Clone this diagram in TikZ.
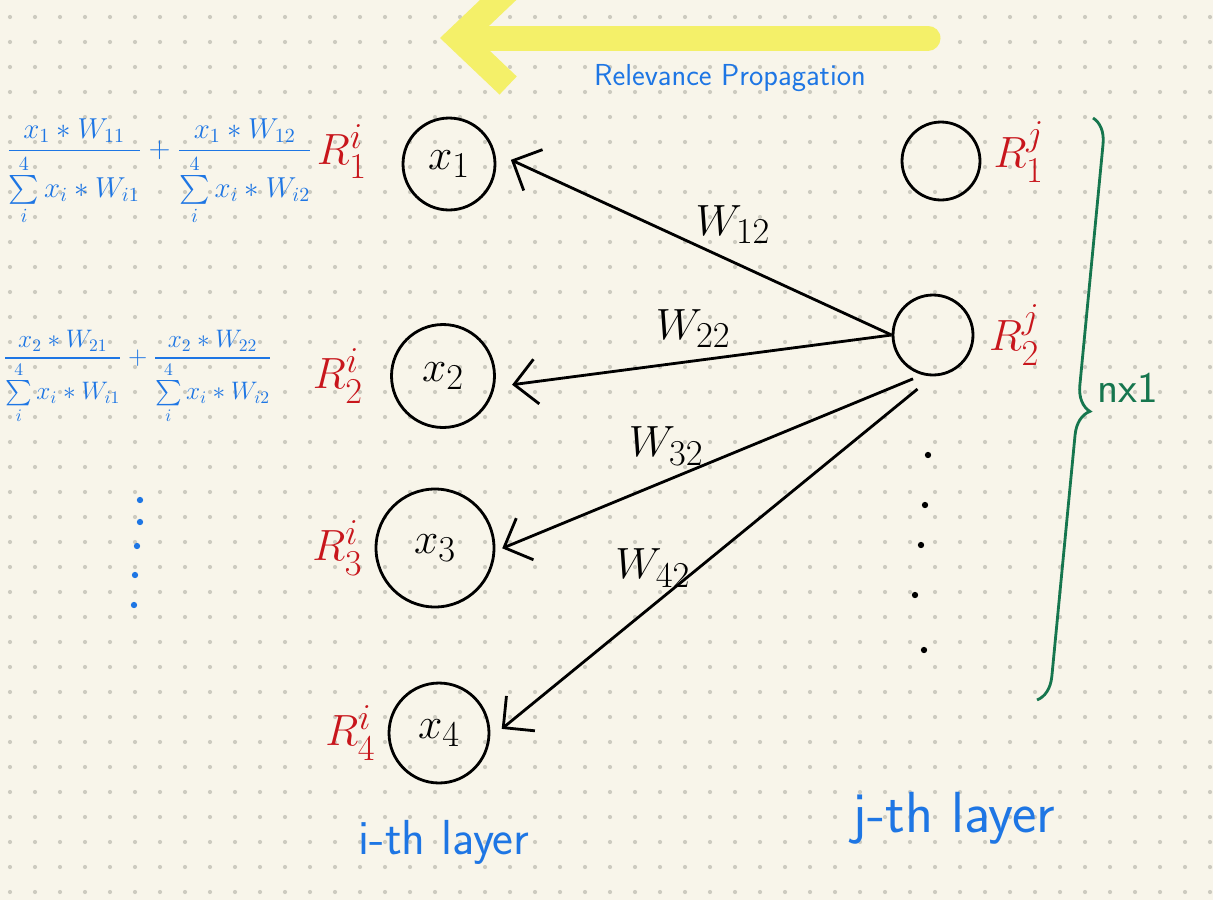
\documentclass[tikz,border=0pt]{standalone}
\usepackage{amsmath}
\usepackage{graphicx}
\usetikzlibrary{arrows.meta, positioning, decorations.pathreplacing}
\definecolor{paper}{RGB}{248, 245, 234}
\definecolor{griddot}{RGB}{205, 203, 192}
\definecolor{penblue}{RGB}{30, 118, 228}
\definecolor{penred}{RGB}{200, 22, 28}
\definecolor{pengreen}{RGB}{22, 118, 78}
\definecolor{marker}{RGB}{244, 240, 105}

\begin{document}
\begin{tikzpicture}[
    x=0.02cm, y=-0.02cm,
    % Styles for the sketch
    neuron/.style={circle, draw=black, line width=1.6pt, minimum size=1.9cm, inner sep=0pt, font=\Huge},
    relevance/.style={text=penred, inner sep=1pt, font=\Huge},
    weight/.style={text=black, inner sep=1pt, font=\Huge},
    formula/.style={text=penblue, inner sep=0pt, anchor=west, font=\Large},
    caption/.style={text=penblue, font=\sffamily\LARGE},
    relarrow/.style={draw, line width=1.6pt, -{Straight Barb[length=4.5mm, width=9mm]}},
    flowarrow/.style={draw=marker, line width=0.5cm, line cap=round, line join=round, -{Straight Barb[length=1cm, width=1.9cm]}}
]

    % --- PAPER: dotted notebook page ---
    \fill[paper] (0,0) rectangle (1213,900);
    \useasboundingbox (0,0) rectangle (1213,900);
    \foreach \gx in {10,35,...,1210}
        \foreach \gy in {17,42,...,892}
            \fill[griddot] (\gx,\gy) circle (1.2pt);

    % --- DIRECTION OF PROPAGATION (top) ---
    \coordinate (flowstart) at (928,38);
    \coordinate (flowend) at (440,38);
    \draw[flowarrow] (flowstart) -- (flowend);
    \node[caption] (relprop) at (730,78) {Relevance Propagation};

    % --- LAYER i (left column) ---
    \node[neuron, minimum size=1.84cm] (x1) at (449,164) {$x_1$};
    \node[neuron, minimum size=2.06cm] (x2) at (443,376) {$x_2$};
    \node[neuron, minimum size=2.36cm] (x3) at (435,548) {$x_3$};
    \node[neuron, minimum size=2.0cm] (x4) at (439,733) {$x_4$};

    \node[relevance, left=0.65cm of x1, yshift=7pt] (R1i) {$R_1^i$};
    \node[relevance, left=0.5cm of x2] (R2i) {$R_2^i$};
    \node[relevance, left=0.2cm of x3] (R3i) {$R_3^i$};
    \node[relevance, left=0.2cm of x4] (R4i) {$R_4^i$};

    % --- LAYER j (right column) ---
    \node[neuron, minimum size=1.56cm] (r1) at (941,161) {};
    \node[neuron, minimum size=1.6cm] (r2) at (933,335) {};

    \node[relevance, right=0.2cm of r1, yshift=5pt] (R1j) {$R_1^j$};
    \node[relevance, right=0.25cm of r2] (R2j) {$R_2^j$};

    % more neurons below
    \foreach \px/\py in {928/455, 925/505, 921/545, 915/595, 924/650}
        \fill (\px,\py) circle (1.8pt);

    % --- RELEVANCE OF R_2^j SENT BACK ---
    \draw[relarrow, shorten >=0.35cm] (r2.west) -- (x1.14) node[weight, pos=0.4, above=3mm] {$W_{12}$};
    \draw[relarrow, shorten >=0.35cm] (r2.west) -- (x2.-12) node[weight, pos=0.5, above=2mm] {$W_{22}$};
    \draw[relarrow, shorten <=0.2cm, shorten >=0.15cm] (r2.255) -- (x3.-3) node[weight, pos=0.6, above=2.5mm] {$W_{32}$};
    \draw[relarrow, shorten <=0.4cm, shorten >=0.3cm] (r2.south) -- (x4.-6) node[weight, pos=0.53, left=1mm] {$W_{42}$};

    % --- SIZE OF LAYER j ---
    \coordinate (bracetop) at (1093,118);
    \coordinate (bracebot) at (1037,700);
    \draw[pengreen, line width=1.6pt, decorate, decoration={brace, amplitude=0.5cm}] (bracetop) -- (bracebot);
    \node[text=pengreen, font=\sffamily\Huge] (size) at (1128,388) {nx1};

    % --- RELEVANCE FORMULAS (left) ---
    \node[formula] (frow1) at (6,172) {\scalebox{1.14}{$\displaystyle \frac{x_1 * W_{11}}{\sum\limits_{i}^{4} x_i * W_{i1}} + \frac{x_1 * W_{12}}{\sum\limits_{i}^{4} x_i * W_{i2}}$}};
    \node[formula] (frow2) at (3,377) {$\displaystyle \frac{x_2 * W_{21}}{\sum\limits_{i}^{4} x_i * W_{i1}} + \frac{x_2 * W_{22}}{\sum\limits_{i}^{4} x_i * W_{i2}}$};
    \foreach \px/\py in {140/500, 140/522, 137/546, 135/575, 134/605}
        \fill[penblue] (\px,\py) circle (1.8pt);

    % --- LAYER NAMES ---
    \node[caption, font=\sffamily\fontsize{28}{32}\selectfont] (ilayer) at (444,842) {i-th layer};
    \node[caption, font=\sffamily\fontsize{33}{38}\selectfont] (jlayer) at (954,818) {j-th layer};

\end{tikzpicture}
\end{document}
